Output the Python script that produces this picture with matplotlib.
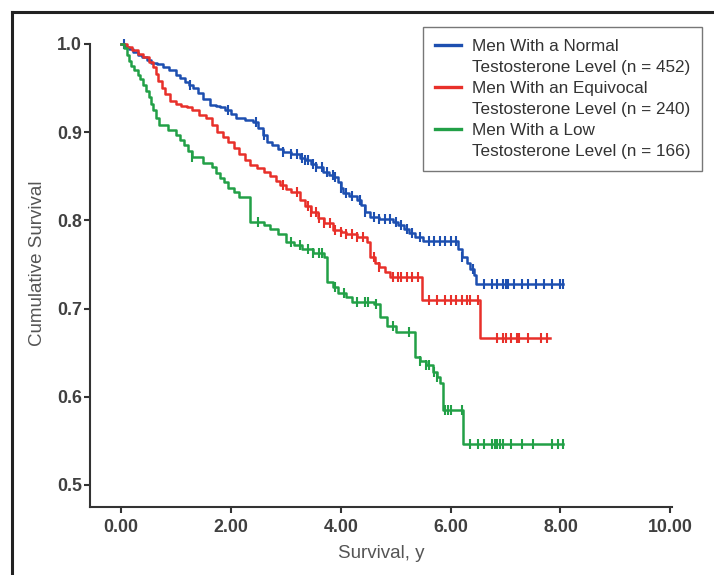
import numpy as np
import matplotlib
matplotlib.use("Agg")
import matplotlib.pyplot as plt
from matplotlib.lines import Line2D

plt.rcParams['font.family'] = ['Liberation Sans', 'DejaVu Sans']

# Kaplan-Meier steps: (time in years, cumulative survival)
normal_t = [0.0, 0.08, 0.15, 0.22, 0.3, 0.38, 0.47, 0.55, 0.65, 0.77, 0.88, 1.0, 1.08, 1.16,
            1.24, 1.31, 1.4, 1.5, 1.62, 1.72, 1.8, 1.9, 2.0, 2.1, 2.25, 2.4, 2.5, 2.58, 2.65,
            2.75, 2.85, 2.95, 3.1, 3.25, 3.35, 3.45, 3.55, 3.67, 3.78, 3.86, 3.95, 4.0, 4.04,
            4.15, 4.29, 4.36, 4.45, 4.53, 4.7, 4.95, 5.05, 5.15, 5.25, 5.35, 5.49, 6.13, 6.2,
            6.29, 6.35, 6.42, 6.47, 8.05]
normal_s = [1.0, 0.997, 0.994, 0.991, 0.988, 0.985, 0.982, 0.979, 0.977, 0.974, 0.97, 0.965,
            0.961, 0.957, 0.953, 0.95, 0.944, 0.938, 0.931, 0.93, 0.928, 0.925, 0.921, 0.916,
            0.914, 0.912, 0.905, 0.897, 0.889, 0.885, 0.881, 0.878, 0.875, 0.871, 0.868, 0.864,
            0.86, 0.855, 0.852, 0.849, 0.843, 0.837, 0.831, 0.828, 0.823, 0.817, 0.81, 0.804,
            0.801, 0.798, 0.795, 0.79, 0.786, 0.781, 0.777, 0.768, 0.759, 0.752, 0.745, 0.738,
            0.728, 0.728]

equiv_t = [0.0, 0.1, 0.2, 0.3, 0.4, 0.5, 0.58, 0.63, 0.68, 0.74, 0.8, 0.9, 1.0, 1.1, 1.2, 1.3,
           1.42, 1.55, 1.65, 1.75, 1.85, 1.95, 2.05, 2.15, 2.25, 2.35, 2.48, 2.6, 2.72, 2.82,
           2.9, 3.0, 3.1, 3.25, 3.35, 3.45, 3.58, 3.7, 3.86, 4.0, 4.1, 4.3, 4.47, 4.53, 4.62,
           4.7, 4.8, 4.89, 5.47, 6.53, 7.8]
equiv_s = [1.0, 0.997, 0.993, 0.989, 0.985, 0.98, 0.974, 0.966, 0.958, 0.95, 0.943, 0.935,
           0.932, 0.93, 0.928, 0.925, 0.92, 0.916, 0.908, 0.9, 0.895, 0.889, 0.882, 0.875,
           0.869, 0.863, 0.859, 0.855, 0.85, 0.845, 0.84, 0.836, 0.832, 0.823, 0.816, 0.81,
           0.803, 0.797, 0.789, 0.787, 0.785, 0.781, 0.776, 0.759, 0.752, 0.747, 0.742, 0.736,
           0.71, 0.667, 0.667]

low_t = [0.0, 0.05, 0.1, 0.14, 0.18, 0.24, 0.3, 0.35, 0.4, 0.45, 0.5, 0.54, 0.58, 0.64, 0.7,
         0.85, 1.0, 1.08, 1.15, 1.22, 1.3, 1.5, 1.65, 1.72, 1.8, 1.88, 1.95, 2.05, 2.15, 2.35,
         2.6, 2.72, 2.85, 3.0, 3.15, 3.3, 3.5, 3.7, 3.75, 3.85, 3.95, 4.1, 4.2, 4.6, 4.72, 4.85,
         5.0, 5.35, 5.45, 5.55, 5.68, 5.75, 5.8, 5.87, 6.22, 8.05]
low_s = [1.0, 0.995, 0.988, 0.981, 0.975, 0.97, 0.965, 0.96, 0.954, 0.947, 0.94, 0.932, 0.925,
         0.916, 0.908, 0.902, 0.897, 0.891, 0.885, 0.879, 0.872, 0.865, 0.86, 0.854, 0.848,
         0.843, 0.837, 0.832, 0.827, 0.798, 0.795, 0.79, 0.784, 0.775, 0.772, 0.768, 0.763,
         0.759, 0.73, 0.724, 0.718, 0.713, 0.708, 0.705, 0.691, 0.68, 0.673, 0.645, 0.64,
         0.636, 0.628, 0.622, 0.616, 0.585, 0.546, 0.546]

# censored observations
normal_cens = [0.05, 1.25, 1.95, 2.45, 2.6, 2.95, 3.1, 3.2, 3.3, 3.35, 3.4, 3.5, 3.55, 3.65,
               3.75, 3.85, 3.9, 4.0, 4.1, 4.2, 4.35, 4.45, 4.6, 4.7, 4.8, 4.9, 5.0, 5.1, 5.2,
               5.3, 5.45, 5.6, 5.7, 5.8, 5.9, 6.0, 6.1, 6.2, 6.4, 6.6, 6.75, 6.85, 6.95, 7.0,
               7.05, 7.15, 7.3, 7.4, 7.55, 7.7, 7.85, 8.0, 8.05]
equiv_cens = [2.95, 3.2, 3.4, 3.45, 3.55, 3.6, 3.7, 3.8, 3.9, 4.0, 4.1, 4.2, 4.3, 4.4, 4.6,
              4.7, 4.95, 5.05, 5.1, 5.2, 5.3, 5.4, 5.6, 5.75, 5.9, 6.0, 6.1, 6.2, 6.3, 6.35,
              6.5, 6.85, 6.95, 7.0, 7.1, 7.2, 7.25, 7.4, 7.65, 7.75]
low_cens = [1.3, 2.5, 3.1, 3.25, 3.4, 3.5, 3.6, 3.65, 3.9, 4.05, 4.3, 4.45, 4.5, 4.65, 4.95,
            5.25, 5.45, 5.55, 5.6, 5.7, 5.75, 5.9, 5.95, 6.0, 6.2, 6.35, 6.5, 6.6, 6.75, 6.8,
            6.85, 6.9, 6.95, 7.1, 7.3, 7.5, 7.85, 7.95, 8.05]

group_names = [["Men With a Normal", "Testosterone Level (n = 452)"],
               ["Men With an Equivocal", "Testosterone Level (n = 240)"],
               ["Men With a Low", "Testosterone Level (n = 166)"]]
colors = ['#1d4fb0', '#e8302a', '#22a047']

x_ticks = [0, 2, 4, 6, 8, 10]
y_ticks = [0.5, 0.6, 0.7, 0.8, 0.9, 1.0]

fig = plt.figure(figsize=(7.14, 5.75), dpi=100)
ax = fig.add_axes([90 / 714, 1 - 507 / 575, 582 / 714, 463 / 575])

groups = [(normal_t, normal_s, normal_cens),
          (equiv_t, equiv_s, equiv_cens),
          (low_t, low_s, low_cens)]

handles = []
labels = []
for (t, s, cens), col, name in zip(groups, colors, group_names):
    t = np.array(t)
    s = np.array(s)
    ax.step(t, s, where='post', color=col, lw=1.8, clip_on=False)
    idx = np.searchsorted(t, cens, side='right') - 1
    ax.plot(cens, s[idx], ls='none', marker='|', ms=6.5, mew=1.5, color=col, clip_on=False)
    handles.append(Line2D([], [], color=col, lw=2.4))
    labels.append(name[0])
    handles.append(Line2D([], [], color='none'))
    labels.append(name[1])

ax.set_xlim(-0.565, 10.03)
ax.set_ylim(0.475, 1.0)
ax.set_xticks(x_ticks)
ax.set_xticklabels(["%.2f" % v for v in x_ticks])
ax.set_yticks(y_ticks)
ax.set_yticklabels(["%.1f" % v for v in y_ticks])

for side in ['top', 'right']:
    ax.spines[side].set_visible(False)
for side in ['left', 'bottom']:
    ax.spines[side].set_color('#333333')
    ax.spines[side].set_linewidth(1.5)

ax.tick_params(axis='both', colors='#333333', labelcolor='#404040', labelsize=12.8,
               length=4, width=1.5)
ax.tick_params(axis='x', pad=5)
ax.tick_params(axis='y', pad=2)
for lab in ax.get_xticklabels() + ax.get_yticklabels():
    lab.set_fontweight('bold')

ax.set_xlabel("Survival, y", fontsize=13.5, color='#555555', labelpad=6)
ax.set_ylabel("Cumulative Survival", fontsize=13.5, color='#555555')
ax.yaxis.set_label_coords(-0.075, 0.527)

leg = ax.legend(handles, labels, loc='upper left', bbox_to_anchor=(423 / 714, 1 - 27 / 575),
                bbox_transform=fig.transFigure, fontsize=12.3, frameon=True, fancybox=False,
                edgecolor='#555555', handlelength=1.55, handletextpad=0.6, labelspacing=0.355,
                borderpad=0.7, borderaxespad=0)
leg.get_frame().set_linewidth(1.0)
for txt in leg.get_texts():
    txt.set_color('#333333')

# outer frame of the original figure
fig.add_artist(Line2D([12 / 714, 12 / 714], [0, 1 - 12 / 575], color='#222222', lw=2.2))
fig.add_artist(Line2D([12 / 714, 1], [1 - 12 / 575, 1 - 12 / 575], color='#222222', lw=2.2))

fig.savefig("out.png", dpi=100)
